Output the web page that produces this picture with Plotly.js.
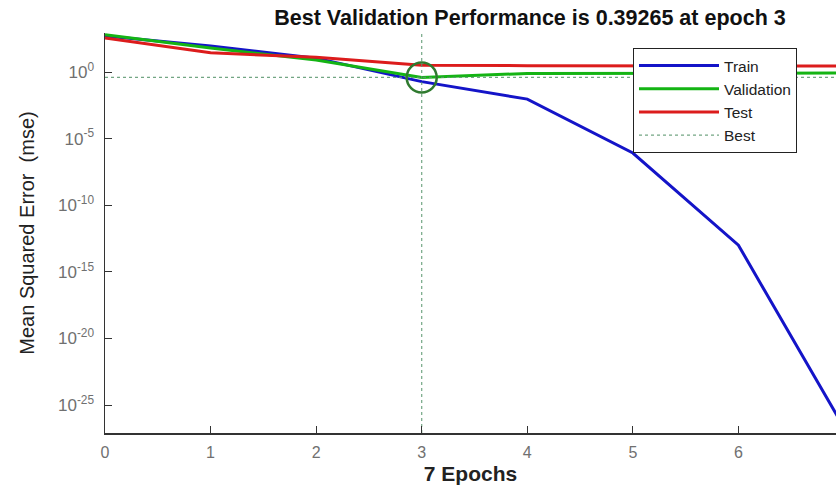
<!DOCTYPE html>
<html>
<head>
<meta charset="utf-8">
<script src="https://cdn.plot.ly/plotly-3.0.1.min.js"></script>
<style>html,body{margin:0;padding:0;background:#fff;}#chart{width:836px;height:487px;}</style>
</head>
<body>
<div id="chart"></div>
<script>
// Data
const epochs = [0, 1, 2, 3, 4, 5, 6, 7];
const trainMSE = [500, 90, 11, 0.19, 0.0093, 8.3e-7, 1.0e-13, 2.0e-27];
const validMSE = [630, 63, 7.9, 0.39265, 0.79, 0.83, 0.83, 0.83];
const testMSE = [355, 28, 12.6, 3.16, 3.0, 3.0, 2.95, 2.8];
const bestEpoch = 3;
const bestPerf = 0.39265;
const yTickVals = [1e-25, 1e-20, 1e-15, 1e-10, 1e-5, 1];
const yTickText = ['10<sup>-25</sup>', '10<sup>-20</sup>', '10<sup>-15</sup>', '10<sup>-10</sup>', '10<sup>-5</sup>', '10<sup>0</sup>'];
const yLimLog = [-27.1, 2.93];

const FONT = 'Liberation Sans, Arial, Helvetica, sans-serif';
const bestColor = 'rgba(90,150,110,0.85)';

const traces = [
  {x: epochs, y: trainMSE, name: 'Train', mode: 'lines', line: {color: '#1414c8', width: 3}},
  {x: epochs, y: validMSE, name: 'Validation', mode: 'lines', line: {color: '#14b414', width: 3}},
  {x: epochs, y: testMSE, name: 'Test', mode: 'lines', line: {color: '#dc1c1c', width: 3}},
  {x: [epochs[0], epochs[epochs.length - 1]], y: [bestPerf, bestPerf], name: 'Best', mode: 'lines',
   line: {color: bestColor, width: 1.2, dash: 'dot'}},
  {x: [bestEpoch, bestEpoch], y: [Math.pow(10, yLimLog[0]), Math.pow(10, yLimLog[1])], mode: 'lines', showlegend: false,
   line: {color: bestColor, width: 1.2, dash: 'dot'}},
  {x: [bestEpoch], y: [bestPerf], mode: 'markers', showlegend: false,
   marker: {symbol: 'circle-open', size: 30, color: '#2f7a2f', line: {width: 2.5, color: '#2f7a2f'}}}
];

const layout = {
  width: 836, height: 487,
  margin: {l: 105, r: 0, t: 33, b: 54},
  paper_bgcolor: '#ffffff', plot_bgcolor: '#ffffff',
  font: {family: FONT, color: '#222'},
  title: {text: '<b>Best Validation Performance is 0.39265 at epoch 3</b>',
          font: {size: 21.5, family: FONT, color: '#111'},
          x: 530 / 836, xanchor: 'center', xref: 'container',
          y: 1 - 17 / 487, yanchor: 'middle', yref: 'container'},
  xaxis: {
    range: [0, (836 - 105) / 105.57], tickmode: 'linear', tick0: 0, dtick: 1,
    ticks: 'inside', ticklen: 7, tickcolor: '#333', tickwidth: 1,
    showline: true, linecolor: '#333', linewidth: 1.5, mirror: false,
    showgrid: false, zeroline: false, ticklabelstandoff: 4,
    tickfont: {size: 16, color: '#707070', family: FONT},
    title: {text: '<b>7 Epochs</b>', font: {size: 21, color: '#222', family: FONT}, standoff: 6}
  },
  yaxis: {
    type: 'log', range: yLimLog, tickmode: 'array', tickvals: yTickVals, ticktext: yTickText,
    ticks: 'inside', ticklen: 7, tickcolor: '#333', tickwidth: 1,
    showline: true, linecolor: '#333', linewidth: 1.5, mirror: false,
    showgrid: false, zeroline: false, ticklabelstandoff: 6,
    tickfont: {size: 17, color: '#707070', family: FONT},
    title: {text: 'Mean Squared Error  (mse)', font: {size: 20, color: '#222', family: FONT}, standoff: 18}
  },
  legend: {
    x: (633 - 105) / 731, y: (433 - 48) / 400, xanchor: 'left', yanchor: 'top',
    bgcolor: '#ffffff', bordercolor: '#222', borderwidth: 1,
    font: {size: 15.5, color: '#222', family: FONT},
    itemwidth: 80, tracegroupgap: 0
  },
  showlegend: true
};

Plotly.newPlot('chart', traces, layout, {staticPlot: true, displayModeBar: false});
</script>
</body>
</html>
